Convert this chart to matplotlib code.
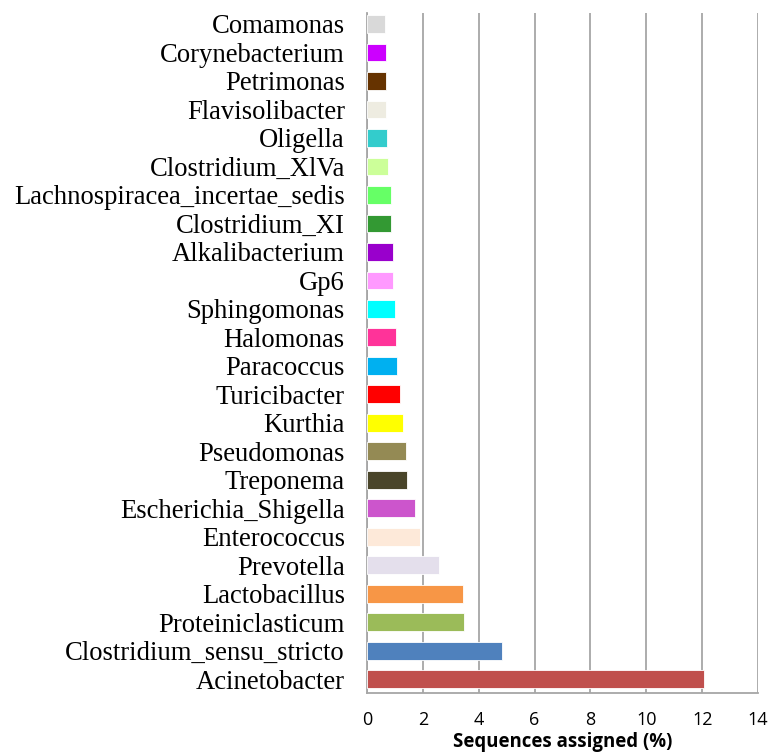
import matplotlib.pyplot as plt

genera = ['Acinetobacter', 'Clostridium_sensu_stricto', 'Proteiniclasticum',
          'Lactobacillus', 'Prevotella', 'Enterococcus', 'Escherichia_Shigella',
          'Treponema', 'Pseudomonas', 'Kurthia', 'Turicibacter', 'Paracoccus',
          'Halomonas', 'Sphingomonas', 'Gp6', 'Alkalibacterium', 'Clostridium_XI',
          'Lachnospiracea_incertae_sedis', 'Clostridium_XlVa', 'Oligella',
          'Flavisolibacter', 'Petrimonas', 'Corynebacterium', 'Comamonas']
percent = [12.08, 4.82, 3.47, 3.44, 2.59, 1.91, 1.72, 1.44, 1.41, 1.29, 1.18,
           1.06, 1.03, 1.02, 0.94, 0.92, 0.87, 0.86, 0.76, 0.73, 0.68, 0.69,
           0.68, 0.64]
colors = ['#C0504D', '#4F81BD', '#9BBB59', '#F79646', '#E4DFEC', '#FDE9D9',
          '#CC55CC', '#4A452A', '#948A54', '#FFFF00', '#FF0000', '#00B0F0',
          '#FF3399', '#00FFFF', '#FF99FF', '#9900CC', '#339933', '#66FF66',
          '#CCFF99', '#33CCCC', '#EEECE1', '#663300', '#CC00FF', '#D9D9D9']
xticks = [0, 2, 4, 6, 8, 10, 12, 14]

fig = plt.figure(figsize=(7.72, 7.53), dpi=100)
ax = fig.add_axes([0.4754, 0.0797, 0.5065, 0.903])

ax.barh(range(len(genera)), percent, height=0.62, color=colors,
        edgecolor='white', linewidth=0.6, zorder=3)

ax.set_xlim(0, 14)
ax.set_ylim(-0.48, 23.38)
ax.set_xticks(xticks)
ax.set_xticklabels([str(t) for t in xticks], family='Open Sans', fontsize=13)
ax.set_yticks(range(len(genera)))
ax.set_yticklabels(genera, family='Liberation Serif', fontsize=19.2)
ax.tick_params(axis='both', length=0)
ax.tick_params(axis='y', pad=16)
ax.tick_params(axis='x', pad=13)

ax.grid(axis='x', color='#A6A6A6', linewidth=1.3, zorder=0)
ax.spines['top'].set_visible(False)
ax.spines['right'].set_visible(False)
ax.spines['left'].set_color('#A6A6A6')
ax.spines['bottom'].set_color('#A6A6A6')
ax.spines['left'].set_linewidth(1.3)
ax.spines['bottom'].set_linewidth(1.3)

ax.set_xlabel('Sequences assigned (%)', family='Open Sans', fontweight='bold',
              fontsize=13.4, va='center')
ax.xaxis.set_label_coords(0.5, -0.072)

fig.savefig('out.png', dpi=100)
